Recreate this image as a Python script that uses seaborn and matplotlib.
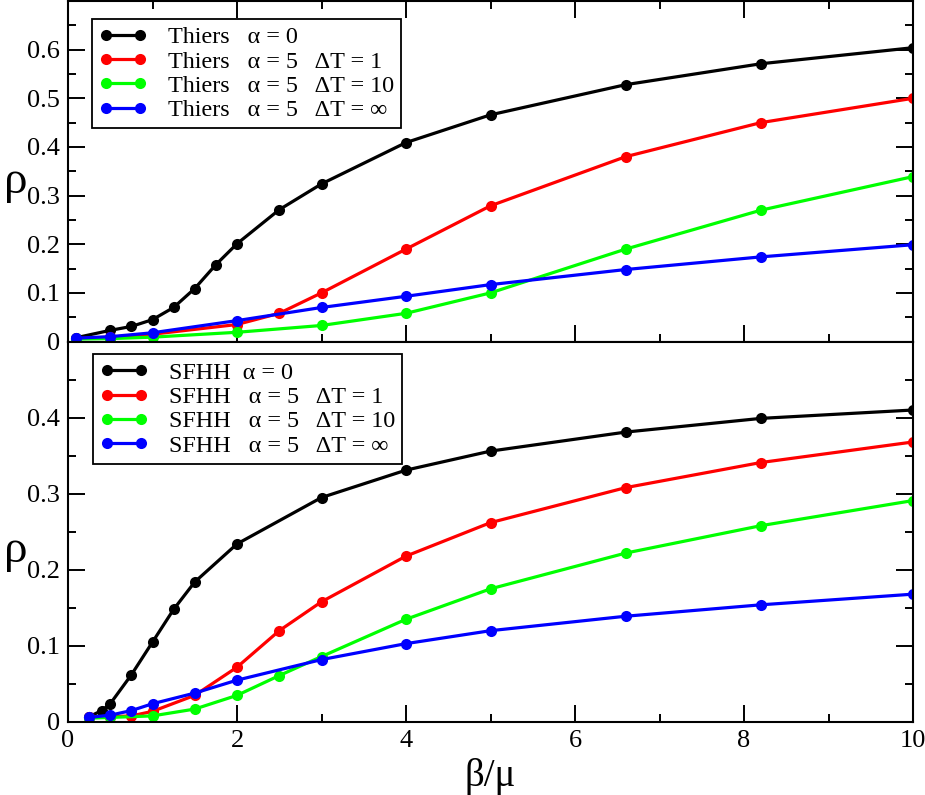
import numpy as np
import pandas as pd
import matplotlib
matplotlib.use("Agg")
import matplotlib.pyplot as plt
import seaborn as sns
from matplotlib.ticker import MultipleLocator

sns.set_theme(style="ticks")
plt.rcParams['font.family'] = ['serif']
plt.rcParams['font.serif'] = ['Liberation Serif', 'DejaVu Serif']
plt.rcParams['mathtext.fontset'] = 'stix'
plt.rcParams['text.color'] = 'black'
plt.rcParams['axes.labelcolor'] = 'black'
plt.rcParams['xtick.color'] = 'black'
plt.rcParams['ytick.color'] = 'black'
SERIF = ['Liberation Serif', 'DejaVu Serif']

# ---------------- data ----------------
thiers_a0_x = [0.1, 0.5, 0.75, 1.0, 1.25, 1.5, 1.75, 2.0, 2.5, 3.0, 4.0, 5.0, 6.6, 8.2, 10.0]
thiers_a0_y = [0.008, 0.023, 0.031, 0.045, 0.070, 0.109, 0.158, 0.201, 0.271, 0.324, 0.409, 0.466, 0.528, 0.571, 0.604]
thiers_dt1_x = [0.1, 0.5, 1.0, 2.0, 2.5, 3.0, 4.0, 5.0, 6.6, 8.2, 10.0]
thiers_dt1_y = [0.006, 0.009, 0.015, 0.035, 0.058, 0.100, 0.190, 0.279, 0.380, 0.450, 0.500]
thiers_dt10_x = [0.1, 0.5, 1.0, 2.0, 3.0, 4.0, 5.0, 6.6, 8.2, 10.0]
thiers_dt10_y = [0.005, 0.006, 0.009, 0.019, 0.033, 0.058, 0.100, 0.190, 0.270, 0.339]
thiers_dtinf_x = [0.1, 0.5, 1.0, 2.0, 3.0, 4.0, 5.0, 6.6, 8.2, 10.0]
thiers_dtinf_y = [0.007, 0.010, 0.018, 0.043, 0.070, 0.093, 0.117, 0.148, 0.174, 0.199]

sfhh_a0_x = [0.25, 0.4, 0.5, 0.75, 1.0, 1.25, 1.5, 2.0, 3.0, 4.0, 5.0, 6.6, 8.2, 10.0]
sfhh_a0_y = [0.007, 0.015, 0.024, 0.062, 0.105, 0.148, 0.184, 0.234, 0.295, 0.331, 0.356, 0.381, 0.399, 0.410]
sfhh_dt1_x = [0.25, 0.5, 0.75, 1.0, 1.5, 2.0, 2.5, 3.0, 4.0, 5.0, 6.6, 8.2, 10.0]
sfhh_dt1_y = [0.006, 0.007, 0.008, 0.014, 0.035, 0.072, 0.120, 0.158, 0.218, 0.262, 0.308, 0.341, 0.368]
sfhh_dt10_x = [0.25, 0.5, 1.0, 1.5, 2.0, 2.5, 3.0, 4.0, 5.0, 6.6, 8.2, 10.0]
sfhh_dt10_y = [0.005, 0.006, 0.008, 0.017, 0.035, 0.061, 0.086, 0.135, 0.175, 0.222, 0.258, 0.291]
sfhh_dtinf_x = [0.25, 0.5, 0.75, 1.0, 1.5, 2.0, 3.0, 4.0, 5.0, 6.6, 8.2, 10.0]
sfhh_dtinf_y = [0.006, 0.009, 0.015, 0.024, 0.038, 0.055, 0.082, 0.103, 0.120, 0.139, 0.154, 0.168]

top_labels = ["Thiers   \u03b1 = 0",
              "Thiers   \u03b1 = 5   \u0394T = 1",
              "Thiers   \u03b1 = 5   \u0394T = 10",
              "Thiers   \u03b1 = 5   \u0394T = \u221e"]
bot_labels = ["SFHH  \u03b1 = 0",
              "SFHH   \u03b1 = 5   \u0394T = 1",
              "SFHH   \u03b1 = 5   \u0394T = 10",
              "SFHH   \u03b1 = 5   \u0394T = \u221e"]
x_ticks = [0, 2, 4, 6, 8, 10]
x_ticklabels = ["0", "2", "4", "6", "8", "10"]
top_yticks = [0, 0.1, 0.2, 0.3, 0.4, 0.5, 0.6]
top_yticklabels = ["0", "0.1", "0.2", "0.3", "0.4", "0.5", "0.6"]
bot_yticks = [0, 0.1, 0.2, 0.3, 0.4]
bot_yticklabels = ["0", "0.1", "0.2", "0.3", "0.4"]
colors = ["#000000", "#ff0000", "#00ff00", "#0000ff"]

top_series = [(thiers_a0_x, thiers_a0_y), (thiers_dt1_x, thiers_dt1_y),
              (thiers_dt10_x, thiers_dt10_y), (thiers_dtinf_x, thiers_dtinf_y)]
bot_series = [(sfhh_a0_x, sfhh_a0_y), (sfhh_dt1_x, sfhh_dt1_y),
              (sfhh_dt10_x, sfhh_dt10_y), (sfhh_dtinf_x, sfhh_dtinf_y)]

fig = plt.figure(figsize=(9.25, 7.95), dpi=100)
gs = fig.add_gridspec(2, 1, height_ratios=[341, 381], hspace=0,
                      left=68/925, right=913/925, top=1 - 1/795, bottom=1 - 722/795)
ax1 = fig.add_subplot(gs[0])
ax2 = fig.add_subplot(gs[1], sharex=ax1)

def draw(ax, series, labels):
    for (x, y), lab, c in zip(series, labels, colors):
        df = pd.DataFrame({"x": x, "y": y})
        sns.lineplot(data=df, x="x", y="y", ax=ax, color=c, marker="o",
                     markersize=8, markeredgewidth=0, linewidth=2.3,
                     estimator=None, sort=False, label=lab)

draw(ax1, top_series, top_labels)
draw(ax2, bot_series, bot_labels)

ax1.set_ylim(0, 0.7)
ax2.set_ylim(0, 0.5)
ax1.set_yticks(top_yticks)
ax1.set_yticklabels(top_yticklabels)
ax2.set_yticks(bot_yticks)
ax2.set_yticklabels(bot_yticklabels)

for ax in (ax1, ax2):
    ax.set_xlim(0, 10)
    ax.set_xticks(x_ticks)
    ax.xaxis.set_minor_locator(MultipleLocator(1))
    ax.yaxis.set_minor_locator(MultipleLocator(0.05))
    for s in ax.spines.values():
        s.set_linewidth(1.5)
        s.set_color("black")
    ax.tick_params(which="major", direction="in", length=12, width=1.4,
                   labelsize=19, colors="black", pad=6)
    ax.tick_params(which="minor", direction="in", length=6, width=1.4, colors="black")
    ax.set_xlabel("")
    ax.set_ylabel("\u03c1", fontsize=34, rotation=0, labelpad=18, va="center",
                  family=SERIF, color="black")

ax2.set_xticklabels(x_ticklabels)
ax1.tick_params(which="both", top=True, right=True, bottom=True, labelbottom=False)
ax2.tick_params(which="both", top=False, right=True, bottom=True, labelbottom=True)
ax2.set_xlabel("\u03b2/\u03bc", fontsize=28, labelpad=4, family=SERIF, color="black")

for ax in (ax1, ax2):
    for lab in ax.get_xticklabels() + ax.get_yticklabels():
        lab.set_family(SERIF)
        lab.set_color("black")

ax1.yaxis.set_label_coords(-0.062, 0.47)
ax2.yaxis.set_label_coords(-0.062, 0.45)

leg_kw = dict(loc="upper left", numpoints=2, frameon=True,
              prop={"family": SERIF, "size": 17.4},
              fancybox=False, framealpha=1, edgecolor="black", borderaxespad=0,
              handlelength=2.0, handletextpad=0.85, labelspacing=0.1, borderpad=0.3)
l1 = ax1.legend(bbox_to_anchor=(0.028, 0.947), **leg_kw)
l2 = ax2.legend(bbox_to_anchor=(0.029, 0.966), **leg_kw)
for l in (l1, l2):
    l.get_frame().set_linewidth(1.3)
    for t in l.get_texts():
        t.set_color("black")

fig.savefig("out.png", dpi=100)
